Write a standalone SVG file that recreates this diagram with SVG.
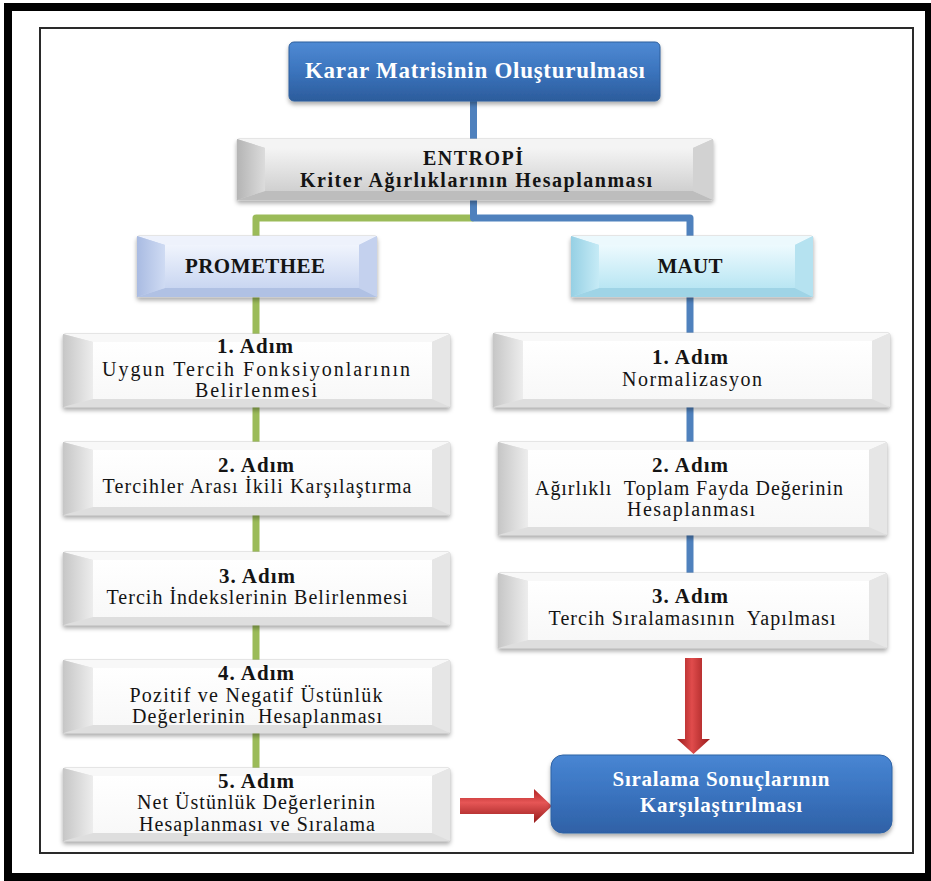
<svg xmlns="http://www.w3.org/2000/svg" width="931" height="881" viewBox="0 0 931 881">
<style>
.hdr{font-weight:bold;text-anchor:middle;fill:#141414}
.body{font-size:20px;text-anchor:middle;fill:#141414}
.wt{font-weight:bold;text-anchor:middle;fill:#ffffff}
.adim{font-size:21px}
.edge{stroke:#c4c4c4;stroke-width:0.8}
.w-top{fill:#f8f8f8}.w-left{fill:url(#gLeftW)}.w-right{fill:#e6e6e6}.w-bot{fill:#dedede}.w-ctr{fill:url(#gCtrW)}
.g-top{fill:#f4f4f4}.g-left{fill:url(#gLeftG)}.g-right{fill:#d2d2d2}.g-bot{fill:#bdbdbd}.g-ctr{fill:url(#gCtrG)}
.p-top{fill:#eef2fc}.p-left{fill:url(#gLeftP)}.p-right{fill:#c4d1ee}.p-bot{fill:#b0c1e4}.p-ctr{fill:url(#gCtrP)}
.m-top{fill:#ecf9fd}.m-left{fill:url(#gLeftM)}.m-right{fill:#b5e2f0}.m-bot{fill:#9fd4e6}.m-ctr{fill:url(#gCtrM)}
.cb{fill:none;stroke:#4f81bd;stroke-width:7;stroke-linejoin:round}
.cg{fill:none;stroke:#9bbb59;stroke-width:7;stroke-linejoin:round}
</style>
<defs>
<filter id="sh" x="-10%" y="-20%" width="120%" height="150%"><feDropShadow dx="0" dy="3" stdDeviation="2" flood-color="#000" flood-opacity="0.32"/></filter>
<linearGradient id="gLeftW" x1="0" y1="0" x2="1" y2="0"><stop offset="0" stop-color="#c6c6c6"/><stop offset="1" stop-color="#ededed"/></linearGradient>
<linearGradient id="gCtrW" x1="0" y1="0" x2="0" y2="1"><stop offset="0" stop-color="#ffffff"/><stop offset="1" stop-color="#f8f8f8"/></linearGradient>
<linearGradient id="gLeftG" x1="0" y1="0" x2="1" y2="0"><stop offset="0" stop-color="#b4b4b4"/><stop offset="1" stop-color="#dcdcdc"/></linearGradient>
<linearGradient id="gCtrG" x1="0" y1="0" x2="0" y2="1"><stop offset="0" stop-color="#f4f4f4"/><stop offset="1" stop-color="#d0d0d0"/></linearGradient>
<linearGradient id="gLeftP" x1="0" y1="0" x2="1" y2="0"><stop offset="0" stop-color="#a9bbe2"/><stop offset="1" stop-color="#cfdbf3"/></linearGradient>
<linearGradient id="gCtrP" x1="0" y1="0" x2="0" y2="1"><stop offset="0" stop-color="#f0f4fd"/><stop offset="1" stop-color="#c9d6f1"/></linearGradient>
<linearGradient id="gLeftM" x1="0" y1="0" x2="1" y2="0"><stop offset="0" stop-color="#96d0e4"/><stop offset="1" stop-color="#c6ebf6"/></linearGradient>
<linearGradient id="gCtrM" x1="0" y1="0" x2="0" y2="1"><stop offset="0" stop-color="#edfafe"/><stop offset="1" stop-color="#b9e6f3"/></linearGradient>
<linearGradient id="gBlue" x1="0" y1="0" x2="0" y2="1"><stop offset="0" stop-color="#4f8ad4"/><stop offset="0.5" stop-color="#3b74bd"/><stop offset="1" stop-color="#2c5c9c"/></linearGradient>
<linearGradient id="gBlue2" x1="0" y1="0" x2="0" y2="1"><stop offset="0" stop-color="#4886d3"/><stop offset="0.5" stop-color="#3a73bf"/><stop offset="1" stop-color="#2f61a6"/></linearGradient>
<linearGradient id="gRedV" x1="0" y1="0" x2="1" y2="0"><stop offset="0" stop-color="#9a1c1c"/><stop offset="0.45" stop-color="#e04c4c"/><stop offset="1" stop-color="#9a1c1c"/></linearGradient>
<linearGradient id="gRedH" x1="0" y1="0" x2="0" y2="1"><stop offset="0" stop-color="#b02424"/><stop offset="0.4" stop-color="#e65656"/><stop offset="1" stop-color="#961b1b"/></linearGradient>
</defs>

<rect x="0" y="0" width="931" height="881" fill="#ffffff"/>
<rect x="8" y="7" width="921" height="870" fill="none" stroke="#000" stroke-width="8"/>
<rect x="40" y="28" width="873" height="825" fill="#ffffff" stroke="#2a2a2a" stroke-width="2"/>

<g id="connectors">
<path class="cb" d="M473.5,100 V140"/>
<path class="cg" d="M473.5,218 H256 V238"/>
<path class="cb" d="M473.5,198 V218 H690 V238"/>
<path class="cg" d="M256,296 V770"/>
<path class="cb" d="M690,296 V575"/>
<polygon fill="url(#gRedV)" points="685,658 702,658 702,739 710,739 693.5,754 677,739 685,739"/>
<polygon fill="url(#gRedH)" points="460,798 534,798 534,789 552,806 534,823 534,814 460,814"/>
</g>

<g font-family="'Liberation Serif', 'DejaVu Serif', 'Times New Roman', serif">
<g id="node-karar">
<rect x="289" y="42" width="371" height="59" rx="5" fill="url(#gBlue)" stroke="#2f5f9c" stroke-width="1" filter="url(#sh)"/>
<text class="wt" x="475" y="78" font-size="23" textLength="340" lengthAdjust="spacing">Karar Matrisinin Oluşturulması</text>
</g>

<g id="node-entropi">
<rect class="edge" x="237" y="139" width="476" height="61" rx="2" fill="#d0d0d0" filter="url(#sh)"/>
<polygon class="g-top" points="237,139 713,139 693,148 265,148"/>
<polygon class="g-bot" points="237,200 713,200 693,191 265,191"/>
<polygon class="g-left" points="237,139 265,148 265,191 237,200"/>
<polygon class="g-right" points="713,139 693,148 693,191 713,200"/>
<rect class="g-ctr" x="265" y="148" width="428" height="43"/>
<text class="hdr" x="473" y="164.5" font-size="20" textLength="100" lengthAdjust="spacing">ENTROPİ</text>
<text class="hdr" x="476" y="187" font-size="20" textLength="352" lengthAdjust="spacing">Kriter Ağırlıklarının Hesaplanması</text>
</g>

<g id="node-promethee">
<rect class="edge" x="137" y="236" width="240" height="61" rx="2" fill="#c4d1ee" filter="url(#sh)"/>
<polygon class="p-top" points="137,236 377,236 359,245 165,245"/>
<polygon class="p-bot" points="137,297 377,297 359,288 165,288"/>
<polygon class="p-left" points="137,236 165,245 165,288 137,297"/>
<polygon class="p-right" points="377,236 359,245 359,288 377,297"/>
<rect class="p-ctr" x="165" y="245" width="194" height="43"/>
<text class="hdr" x="255" y="273" font-size="21" textLength="140" lengthAdjust="spacing">PROMETHEE</text>
</g>

<g id="node-maut">
<rect class="edge" x="571" y="236" width="242" height="61" rx="2" fill="#b5e2f0" filter="url(#sh)"/>
<polygon class="m-top" points="571,236 813,236 795,245 599,245"/>
<polygon class="m-bot" points="571,297 813,297 795,288 599,288"/>
<polygon class="m-left" points="571,236 599,245 599,288 571,297"/>
<polygon class="m-right" points="813,236 795,245 795,288 813,297"/>
<rect class="m-ctr" x="599" y="245" width="196" height="43"/>
<text class="hdr" x="690" y="273" font-size="21" textLength="65" lengthAdjust="spacing">MAUT</text>
</g>

<g id="node-p1">
<rect class="edge" x="63" y="334" width="387" height="73" rx="2" fill="#e0e0e0" filter="url(#sh)"/>
<polygon class="w-top" points="63,334 450,334 432,342 93,342"/>
<polygon class="w-bot" points="63,407 450,407 432,399 93,399"/>
<polygon class="w-left" points="63,334 93,342 93,399 63,407"/>
<polygon class="w-right" points="450,334 432,342 432,399 450,407"/>
<rect class="w-ctr" x="93" y="342" width="339" height="57"/>
<text class="hdr adim" x="255" y="353" textLength="76" lengthAdjust="spacing">1. Adım</text>
<text class="body" x="256" y="376" textLength="308" lengthAdjust="spacing">Uygun Tercih Fonksiyonlarının</text>
<text class="body" x="256" y="397" textLength="122" lengthAdjust="spacing">Belirlenmesi</text>
</g>

<g id="node-p2">
<rect class="edge" x="63" y="442" width="387" height="73" rx="2" fill="#e0e0e0" filter="url(#sh)"/>
<polygon class="w-top" points="63,442 450,442 432,450 93,450"/>
<polygon class="w-bot" points="63,515 450,515 432,507 93,507"/>
<polygon class="w-left" points="63,442 93,450 93,507 63,515"/>
<polygon class="w-right" points="450,442 432,450 432,507 450,515"/>
<rect class="w-ctr" x="93" y="450" width="339" height="57"/>
<text class="hdr adim" x="256" y="472" textLength="76" lengthAdjust="spacing">2. Adım</text>
<text class="body" x="257" y="493" textLength="309" lengthAdjust="spacing">Tercihler Arası İkili Karşılaştırma</text>
</g>

<g id="node-p3">
<rect class="edge" x="63" y="552" width="387" height="73" rx="2" fill="#e0e0e0" filter="url(#sh)"/>
<polygon class="w-top" points="63,552 450,552 432,560 93,560"/>
<polygon class="w-bot" points="63,625 450,625 432,617 93,617"/>
<polygon class="w-left" points="63,552 93,560 93,617 63,625"/>
<polygon class="w-right" points="450,552 432,560 432,617 450,625"/>
<rect class="w-ctr" x="93" y="560" width="339" height="57"/>
<text class="hdr adim" x="257" y="583" textLength="76" lengthAdjust="spacing">3. Adım</text>
<text class="body" x="257" y="604" textLength="301" lengthAdjust="spacing">Tercih İndekslerinin Belirlenmesi</text>
</g>

<g id="node-p4">
<rect class="edge" x="63" y="660" width="387" height="73" rx="2" fill="#e0e0e0" filter="url(#sh)"/>
<polygon class="w-top" points="63,660 450,660 432,668 93,668"/>
<polygon class="w-bot" points="63,733 450,733 432,725 93,725"/>
<polygon class="w-left" points="63,660 93,668 93,725 63,733"/>
<polygon class="w-right" points="450,660 432,668 432,725 450,733"/>
<rect class="w-ctr" x="93" y="668" width="339" height="57"/>
<text class="hdr adim" x="256" y="680" textLength="76" lengthAdjust="spacing">4. Adım</text>
<text class="body" x="256" y="702" textLength="253" lengthAdjust="spacing">Pozitif ve Negatif Üstünlük</text>
<text class="body" x="257" y="723" xml:space="preserve" textLength="250" lengthAdjust="spacing">Değerlerinin  Hesaplanması</text>
</g>

<g id="node-p5">
<rect class="edge" x="63" y="768" width="387" height="73" rx="2" fill="#e0e0e0" filter="url(#sh)"/>
<polygon class="w-top" points="63,768 450,768 432,776 93,776"/>
<polygon class="w-bot" points="63,841 450,841 432,833 93,833"/>
<polygon class="w-left" points="63,768 93,776 93,833 63,841"/>
<polygon class="w-right" points="450,768 432,776 432,833 450,841"/>
<rect class="w-ctr" x="93" y="776" width="339" height="57"/>
<text class="hdr adim" x="256" y="788" textLength="76" lengthAdjust="spacing">5. Adım</text>
<text class="body" x="256" y="809" textLength="238" lengthAdjust="spacing">Net Üstünlük Değerlerinin</text>
<text class="body" x="257" y="831" textLength="236" lengthAdjust="spacing">Hesaplanması ve Sıralama</text>
</g>

<g id="node-m1">
<rect class="edge" x="493" y="333" width="397" height="74" rx="2" fill="#e0e0e0" filter="url(#sh)"/>
<polygon class="w-top" points="493,333 890,333 872,341 523,341"/>
<polygon class="w-bot" points="493,407 890,407 872,399 523,399"/>
<polygon class="w-left" points="493,333 523,341 523,399 493,407"/>
<polygon class="w-right" points="890,333 872,341 872,399 890,407"/>
<rect class="w-ctr" x="523" y="341" width="349" height="58"/>
<text class="hdr adim" x="690" y="364" textLength="76" lengthAdjust="spacing">1. Adım</text>
<text class="body" x="692" y="386" textLength="140" lengthAdjust="spacing">Normalizasyon</text>
</g>

<g id="node-m2">
<rect class="edge" x="498" y="442" width="389" height="93" rx="2" fill="#e0e0e0" filter="url(#sh)"/>
<polygon class="w-top" points="498,442 887,442 869,450 528,450"/>
<polygon class="w-bot" points="498,535 887,535 869,527 528,527"/>
<polygon class="w-left" points="498,442 528,450 528,527 498,535"/>
<polygon class="w-right" points="887,442 869,450 869,527 887,535"/>
<rect class="w-ctr" x="528" y="450" width="341" height="77"/>
<text class="hdr adim" x="690" y="472" textLength="76" lengthAdjust="spacing">2. Adım</text>
<text class="body" x="689" y="495" xml:space="preserve" textLength="308" lengthAdjust="spacing">Ağırlıklı  Toplam Fayda Değerinin</text>
<text class="body" x="691" y="516" textLength="128" lengthAdjust="spacing">Hesaplanması</text>
</g>

<g id="node-m3">
<rect class="edge" x="498" y="573" width="389" height="75" rx="2" fill="#e0e0e0" filter="url(#sh)"/>
<polygon class="w-top" points="498,573 887,573 869,581 528,581"/>
<polygon class="w-bot" points="498,648 887,648 869,640 528,640"/>
<polygon class="w-left" points="498,573 528,581 528,640 498,648"/>
<polygon class="w-right" points="887,573 869,581 869,640 887,648"/>
<rect class="w-ctr" x="528" y="581" width="341" height="59"/>
<text class="hdr adim" x="690" y="603" textLength="76" lengthAdjust="spacing">3. Adım</text>
<text class="body" x="692" y="625" xml:space="preserve" textLength="287" lengthAdjust="spacing">Tercih Sıralamasının  Yapılması</text>
</g>

<g id="node-final">
<rect x="551" y="755" width="341" height="78" rx="12" fill="url(#gBlue2)" stroke="#2f62a4" stroke-width="1" filter="url(#sh)"/>
<text class="wt" x="721" y="786" font-size="21" textLength="217" lengthAdjust="spacing">Sıralama Sonuçlarının</text>
<text class="wt" x="721" y="812" font-size="21" textLength="162" lengthAdjust="spacing">Karşılaştırılması</text>
</g>
</g>
</svg>
